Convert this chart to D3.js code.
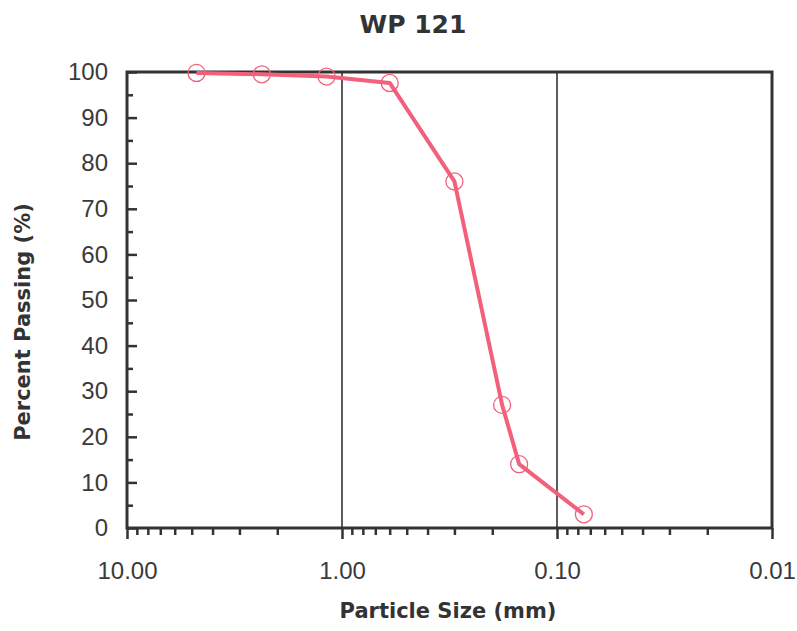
<!DOCTYPE html>
<html><head><meta charset="utf-8">
<script src="https://cdn.jsdelivr.net/npm/d3@7"></script>
<style>body{margin:0;background:#fff;}svg{display:block;}</style>
</head><body>
<svg id="chart" width="797" height="631"></svg>
<script>
const title = "WP 121";
const xTitle = "Particle Size (mm)";
const yTitle = "Percent Passing (%)";
const sizes = [4.75, 2.36, 1.18, 0.6, 0.3, 0.18, 0.15, 0.075];
const passing = [99.8, 99.5, 99.0, 97.6, 76, 27, 14, 3];
const xTickValues = [10, 1, 0.1, 0.01];
const xTickLabels = ["10.00", "1.00", "0.10", "0.01"];
const yTickValues = [0,10,20,30,40,50,60,70,80,90,100];

const svg = d3.select("#chart");
const L = 127, R = 772, T = 72, B = 528;
const x = d3.scaleLog().domain([10, 0.01]).range([L, R]);
const y = d3.scaleLinear().domain([0, 100]).range([B, T]);
const ink = "#333";
const pink = "#f2607c";
const labelFont = "'Liberation Sans', Arial, sans-serif";

// vertical gridlines at inner decades
svg.append("g").selectAll("line").data([1, 0.1]).join("line")
  .attr("x1", d => x(d)).attr("x2", d => x(d))
  .attr("y1", T).attr("y2", B)
  .attr("stroke", ink).attr("stroke-width", 1.6);

// minor x ticks (outside, downward)
const minor = [];
[10, 1, 0.1].forEach(dec => { for (let k = 2; k <= 9; k++) minor.push(dec * k / 10); });
const xMinorAxis = d3.axisBottom(x).tickValues(minor).tickSize(7).tickFormat("");
svg.append("g").attr("transform", `translate(0,${B})`).call(xMinorAxis)
  .call(g => { g.select(".domain").remove(); g.selectAll("line").attr("stroke", ink).attr("stroke-width", 2.5); });
const xMajorAxis = d3.axisBottom(x).tickValues(xTickValues).tickSize(11)
  .tickFormat((d, i) => xTickLabels[i]).tickPadding(23);
svg.append("g").attr("transform", `translate(0,${B})`).call(xMajorAxis)
  .call(g => {
    g.select(".domain").remove();
    g.selectAll("line").attr("stroke", ink).attr("stroke-width", 2.5);
    g.selectAll("text").attr("font-family", labelFont)
      .attr("font-size", 24).attr("fill", "#3a3a3a");
  });

// y ticks inside: minor every 5, major every 10
const yMinor = d3.range(5, 100, 10);
svg.append("g").attr("transform", `translate(${L},0)`)
  .call(d3.axisRight(y).tickValues(yMinor).tickSize(6).tickFormat(""))
  .call(g => { g.select(".domain").remove(); g.selectAll("line").attr("stroke", ink).attr("stroke-width", 2.5); });
svg.append("g").attr("transform", `translate(${L},0)`)
  .call(d3.axisRight(y).tickValues(yTickValues).tickSize(10).tickFormat(""))
  .call(g => { g.select(".domain").remove(); g.selectAll("line").attr("stroke", ink).attr("stroke-width", 2.5); });
svg.append("g").attr("transform", `translate(${L},0)`)
  .call(d3.axisLeft(y).tickValues(yTickValues).tickSize(0).tickPadding(19))
  .call(g => {
    g.select(".domain").remove();
    g.selectAll("text").attr("font-family", labelFont)
      .attr("font-size", 24).attr("fill", "#3a3a3a");
  });

// frame
svg.append("rect").attr("x", L).attr("y", T).attr("width", R - L).attr("height", B - T)
  .attr("fill", "none").attr("stroke", ink).attr("stroke-width", 3);

// data line
const pts = sizes.map((s, i) => [s, passing[i]]);
svg.append("path").datum(pts)
  .attr("d", d3.line().x(d => x(d[0])).y(d => y(d[1])))
  .attr("fill", "none").attr("stroke", pink).attr("stroke-width", 4)
  .attr("stroke-linejoin", "round");
svg.append("g").selectAll("circle").data(pts).join("circle")
  .attr("cx", d => x(d[0])).attr("cy", d => y(d[1])).attr("r", 8.5)
  .attr("fill", "none").attr("stroke", pink).attr("stroke-width", 1.3);

// titles
svg.append("text").attr("x", 413).attr("y", 33).attr("text-anchor", "middle")
  .attr("font-family", "'DejaVu Sans', sans-serif").attr("font-weight", "bold")
  .attr("font-size", 25).attr("fill", ink).text(title);
svg.append("text").attr("x", 448).attr("y", 618).attr("text-anchor", "middle")
  .attr("font-family", "'DejaVu Sans', sans-serif").attr("font-weight", "bold")
  .attr("font-size", 21).attr("fill", ink).text(xTitle);
svg.append("text").attr("transform", "translate(30,322) rotate(-90)").attr("text-anchor", "middle")
  .attr("font-family", "'DejaVu Sans', sans-serif").attr("font-weight", "bold")
  .attr("font-size", 21).attr("fill", ink).text(yTitle);
</script>
</body></html>
